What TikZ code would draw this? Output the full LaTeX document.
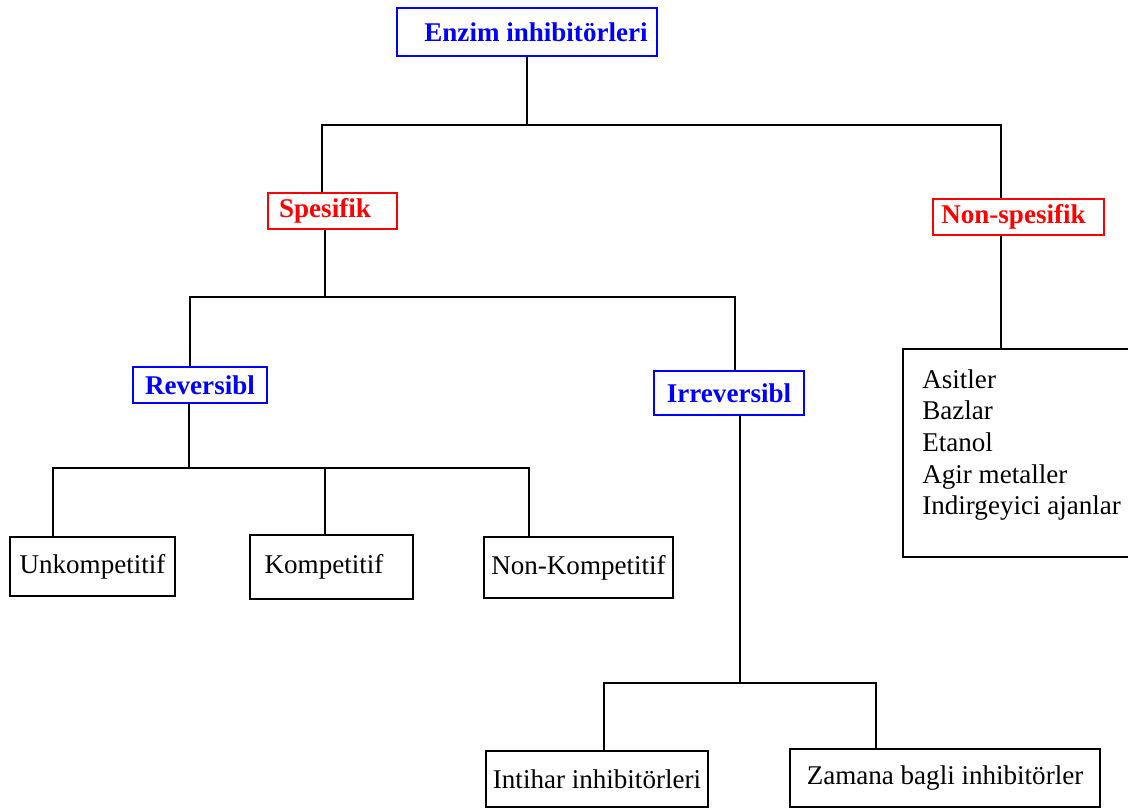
\documentclass[tikz,border=0pt]{standalone}
\usepackage{fontspec}
\setmainfont{Liberation Serif}
\begin{document}
\begin{tikzpicture}[x=0.02cm, y=-0.02cm,
    yazi/.style={font=\fontsize{15.4}{18}\selectfont},
    kutu/.style={draw, line width=1.1pt, inner sep=0pt, yazi},
    mavi/.style={kutu, draw=blue, text=blue, font=\fontsize{15.4}{18}\selectfont\bfseries},
    kirmizi/.style={kutu, draw=red, text=red, font=\fontsize{15.4}{18}\selectfont\bfseries},
    hat/.style={line width=1.1pt}]
    \useasboundingbox (0,0) rectangle (1128,809);
    \clip (0,0) rectangle (1128,809);

    % Ust seviye
    \node[mavi, minimum width=5.2cm, minimum height=0.96cm] (enzim) at (527,32) {\hspace*{0.36cm}Enzim inhibitörleri};
    \node[kirmizi, minimum width=2.58cm, minimum height=0.72cm] (spesifik) at (332.5,211) {\raisebox{-0.08cm}{Spesifik}\hspace*{0.3cm}};
    \node[kirmizi, minimum width=3.42cm, minimum height=0.72cm] (nonspesifik) at (1018.5,217) {Non-spesifik\hspace*{0.2cm}};

    % Non-spesifik listesi
    \node[kutu, minimum width=4.74cm, minimum height=4.16cm] (liste) at (1021.5,453) {};
    \node[yazi, anchor=north west, align=left, inner sep=0pt] (listeyazi) at (922,369)
        {Asitler\\Bazlar\\Etanol\\Agir metaller\\Indirgeyici ajanlar};

    % Spesifik alt dallari
    \node[mavi, minimum width=2.68cm, minimum height=0.72cm] (reversibl) at (200,385) {Reversibl};
    \node[mavi, minimum width=3.0cm, minimum height=0.88cm] (irreversibl) at (729,393) {Irreversibl};

    \node[kutu, minimum width=3.3cm, minimum height=1.18cm] (unkompetitif) at (92.5,566.5) {Unkompetitif};
    \node[kutu, minimum width=3.26cm, minimum height=1.28cm] (kompetitif) at (331.5,567) {Kompetitif\hspace*{0.3cm}};
    \node[kutu, minimum width=3.78cm, minimum height=1.22cm] (nonkompetitif) at (578.5,567.5) {Non-Kompetitif};

    \node[kutu, minimum width=4.44cm, minimum height=1.12cm] (intihar) at (597,779) {Intihar inhibitörleri};
    \node[kutu, minimum width=6.2cm, minimum height=1.16cm] (zamana) at (945,778) {Zamana bagli inhibitörler};

    % Baglantilar
    \coordinate (c1) at (527,125);
    \coordinate (b1l) at (322,125);
    \coordinate (b1r) at (1001,125);
    \draw[hat] (enzim) -- (c1);
    \draw[hat] (spesifik.north -| b1l) -- (b1l) -- (b1r) -- (nonspesifik.north -| b1r);
    \draw[hat] (nonspesifik.south -| b1r) -- (liste.north -| b1r);

    \coordinate (c2) at (325,297);
    \coordinate (b2l) at (190,297);
    \coordinate (b2r) at (735,297);
    \draw[hat] (spesifik.south -| c2) -- (c2);
    \draw[hat] (reversibl.north -| b2l) -- (b2l) -- (b2r) -- (irreversibl.north -| b2r);

    \coordinate (c3) at (189,468);
    \coordinate (b3l) at (53,468);
    \coordinate (b3m) at (325,468);
    \coordinate (b3r) at (529,468);
    \draw[hat] (reversibl.south -| c3) -- (c3);
    \draw[hat] (unkompetitif.north -| b3l) -- (b3l) -- (b3r) -- (nonkompetitif.north -| b3r);
    \draw[hat] (b3m) -- (kompetitif.north -| b3m);

    \coordinate (c4) at (740,683);
    \coordinate (b4l) at (604,683);
    \coordinate (b4r) at (876,683);
    \draw[hat] (irreversibl.south -| c4) -- (c4);
    \draw[hat] (intihar.north -| b4l) -- (b4l) -- (b4r) -- (zamana.north -| b4r);
\end{tikzpicture}
\end{document}
